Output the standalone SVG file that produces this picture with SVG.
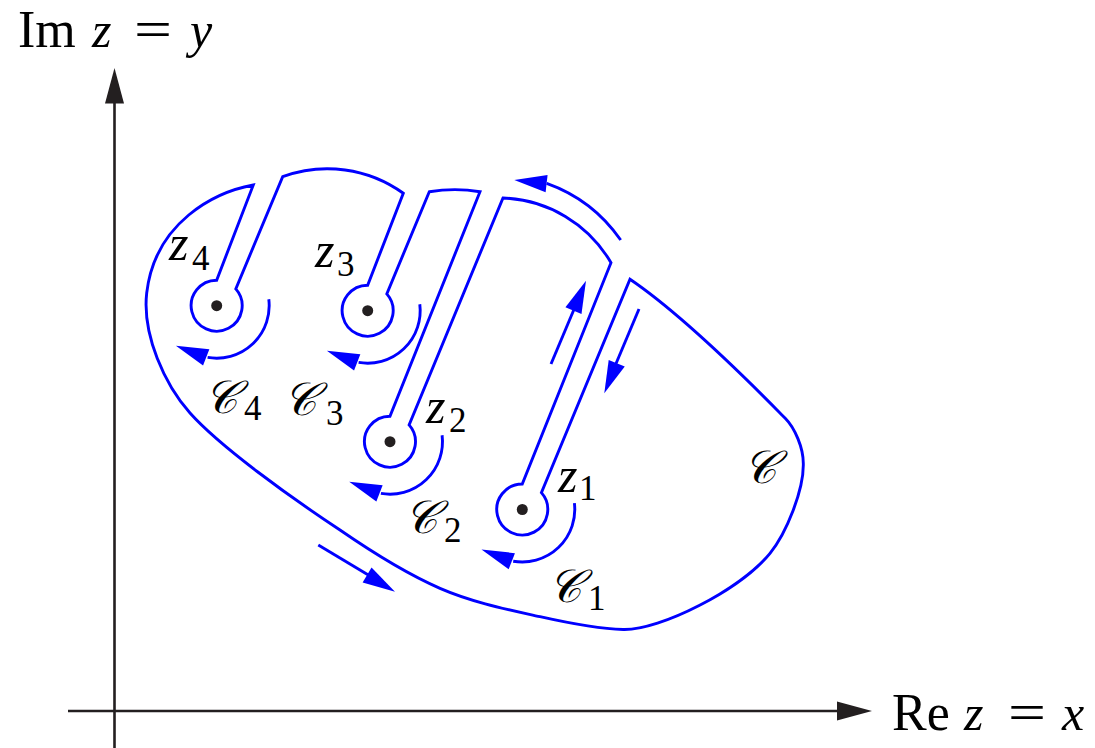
<svg xmlns="http://www.w3.org/2000/svg" xmlns:xlink="http://www.w3.org/1999/xlink" width="1095" height="748" viewBox="0 0 1095 748">
<style>
.blue{fill:none;stroke:#0000ff;stroke-width:2.9;stroke-linejoin:miter;stroke-linecap:butt}
.axis{fill:none;stroke:#231f20;stroke-width:2.6}
.ah{fill:#0000ff}
.axh{fill:#231f20}
.dot{fill:#231f20}
text{font-family:"Liberation Serif","Times New Roman",serif;fill:#000}
.m{font-size:50px;font-style:italic}
.c{font-size:46px;font-style:italic}
.u{font-size:52px}
.s{font-size:35px}
</style>
<defs>
<path id="head" d="M0,0 L-32.5,-8.7 L-32.5,8.7 Z"/>
<g id="ck">
<path class="blue" d="M52.1,-6.4 A52.5,52.5 0 0 1 -9.1,51.7"/>
<use xlink:href="#head" href="#head" class="ah" transform="translate(-40.8,40) rotate(201.2)"/>
</g>
</defs>
<rect width="1095" height="748" fill="#fff"/>
<g id="axes">
<path class="axis" d="M114.5,748 V100 M68,711 H840"/>
<path class="axh" d="M114.5,68 L105,103.5 L124,103.5 Z"/>
<path class="axh" d="M872,711 L837,701.5 L837,720.5 Z"/>
<text y="47"><tspan class="u" x="18">Im</tspan><tspan class="m" x="92">z</tspan><tspan class="u" x="134" textLength="38" lengthAdjust="spacingAndGlyphs">=</tspan><tspan class="m" x="190">y</tspan></text>
<text y="730"><tspan class="u" x="892">Re</tspan><tspan class="m" x="964">z</tspan><tspan class="u" x="1008" textLength="38" lengthAdjust="spacingAndGlyphs">=</tspan><tspan class="m" x="1062">x</tspan></text>
</g>
<g id="contour">
<path class="blue" d="M253.3,185 C215,192 155,222 146.7,293 C142,335 165,385 190,413 C220,446.6 290,497 340,530 C376.7,555.3 406.7,573.85 440,588.3 C473.3,602.75 509.45,609.83 540,616.7 C570.55,623.57 600,628.95 623.3,629.5 C660,630.4 740,590 770,553.3 C786,534 804,490 803.3,463.3 C803.3,448 795,428 785,418 C770,403 690,320 630,279.3 L541.4,492.65 A25.5,25.5 0 1 1 522.26,484 L611,262.7 A130,130 0 0 0 503,198 L409.1,424.85 A25.5,25.5 0 1 1 389.96,416.2 L480,191.7 Q455,187.5 429.3,191.7 L386.8,293.85 A25.5,25.5 0 1 1 367.66,285.2 L403.3,193.3 A130,130 0 0 0 282.7,176.7 L235.8,288.85 A25.5,25.5 0 1 1 216.66,280.2 Z"/>
<text class="c" x="743" y="483">𝒞</text>
</g>
<g id="z1">
<circle class="dot" cx="522.3" cy="509.5" r="5.5"/>
<use xlink:href="#ck" href="#ck" transform="translate(522.3,509.5)"/>
<text class="m" x="558" y="492">z</text><text class="s" x="579" y="500">1</text>
<text class="c" x="548" y="602">𝒞</text><text class="s" x="588" y="610">1</text>
</g>
<g id="z2">
<circle class="dot" cx="390" cy="441.7" r="5.5"/>
<use xlink:href="#ck" href="#ck" transform="translate(390,441.7)"/>
<text class="m" x="426" y="423">z</text><text class="s" x="449" y="432">2</text>
<text class="c" x="404" y="533">𝒞</text><text class="s" x="444" y="542">2</text>
</g>
<g id="z3">
<circle class="dot" cx="367.7" cy="310.7" r="5.5"/>
<use xlink:href="#ck" href="#ck" transform="translate(367.7,310.7)"/>
<text class="m" x="315" y="267">z</text><text class="s" x="337" y="276">3</text>
<text class="c" x="283" y="415">𝒞</text><text class="s" x="326" y="425">3</text>
</g>
<g id="z4">
<circle class="dot" cx="216.7" cy="305.7" r="5.5"/>
<use xlink:href="#ck" href="#ck" transform="translate(216.7,305.7)"/>
<text class="m" x="169" y="260">z</text><text class="s" x="192" y="270">4</text>
<text class="c" x="204" y="413">𝒞</text><text class="s" x="244" y="420">4</text>
</g>
<g id="connectors">
<path class="blue" d="M620.7,240 A152,152 0 0 0 546.7,183.3"/>
<use xlink:href="#head" href="#head" class="ah" transform="translate(514.3,180) rotate(186.5)"/>
<path class="blue" d="M551,364 L575,307"/>
<use xlink:href="#head" href="#head" class="ah" transform="translate(586,280.7) rotate(-67.3)"/>
<path class="blue" d="M639,309 L615,366"/>
<use xlink:href="#head" href="#head" class="ah" transform="translate(604.3,393.3) rotate(112.5)"/>
<path class="blue" d="M318.3,545 L370,576"/>
<use xlink:href="#head" href="#head" class="ah" transform="translate(395,591.7) rotate(30.8)"/>
</g>
</svg>
